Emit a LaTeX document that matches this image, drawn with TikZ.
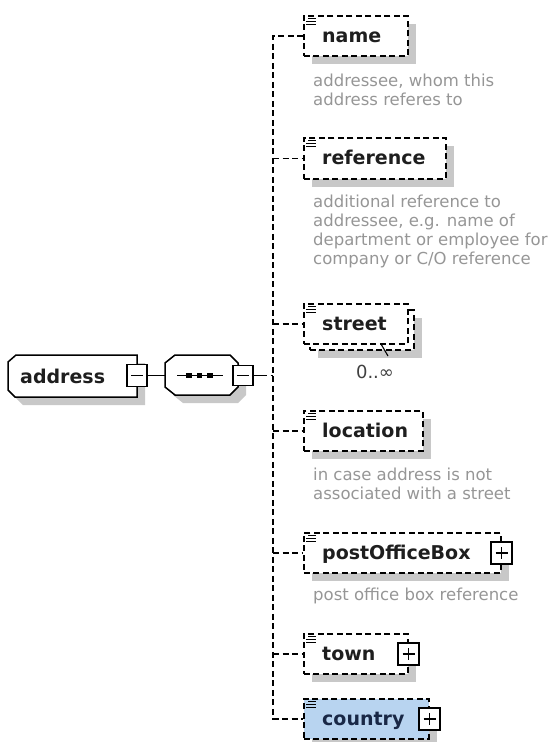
\documentclass[tikz,border=0pt]{standalone}
\usepackage{fontspec}
\setmainfont{DejaVu Sans}
\usetikzlibrary{shadows}
\definecolor{shadowgray}{RGB}{200,200,200}
\definecolor{txtdark}{RGB}{30,30,30}
\definecolor{descgray}{RGB}{150,150,150}
\definecolor{selblue}{RGB}{184,212,240}
\definecolor{seltext}{RGB}{25,40,70}
\newcommand\elicon[1]{%
  \draw[icon] ([xshift=5pt,yshift=-3.5pt]#1.north west) -- ++(8pt,0pt);
  \draw[icon] ([xshift=3pt,yshift=-6.5pt]#1.north west) -- ++(10pt,0pt);
  \draw[icon] ([xshift=3pt,yshift=-9.5pt]#1.north west) -- ++(10pt,0pt);}
\newcommand\plusmark[1]{%
  \draw[boxline] ([xshift=-6pt]#1.center) -- ([xshift=6pt]#1.center);
  \draw[boxline] ([yshift=-6pt]#1.center) -- ([yshift=6pt]#1.center);}
\newcommand\minusmark[1]{%
  \draw[boxline] ([xshift=-6pt]#1.center) -- ([xshift=6pt]#1.center);}
\begin{document}
\begin{tikzpicture}[x=1pt,y=-1pt,
  boxline/.style={line width=1.5pt},
  elbox/.style={draw=black, line width=1.5pt, dash pattern=on 6pt off 3.5pt, fill=white, rectangle, inner sep=0pt, anchor=north west},
  shadowed/.style={drop shadow={shadow xshift=8pt, shadow yshift=-8pt, fill=shadowgray, opacity=1}},
  conn/.style={line width=1.5pt, dash pattern=on 6pt off 3.5pt},
  solidconn/.style={line width=1.5pt},
  lbl/.style={anchor=base west, inner sep=0pt, font=\fontsize{19}{22}\selectfont\bfseries, text=txtdark},
  desc/.style={anchor=base west, inner sep=0pt, align=left, font=\fontsize{16.5}{19}\selectfont, text=descgray},
  togglebox/.style={draw=black, line width=1.5pt, fill=white, rectangle, inner sep=0pt, minimum width=21pt, minimum height=22pt},
  icon/.style={line width=1.1pt},
]
\useasboundingbox (0,0) rectangle (547,742);

% ---------- address ----------
\begin{scope}[shift={(8,8)}]
  \fill[shadowgray] (16,355) -- (137,355) -- (137,397) -- (15,397) -- (8,390) -- (8,362) -- cycle;
\end{scope}
\draw[boxline, fill=white] (16,355) -- (137,355) -- (137,397) -- (15,397) -- (8,390) -- (8,362) -- cycle;
\node[inner sep=0pt, minimum width=129pt, minimum height=42pt, anchor=north west] (address) at (8,355) {};
\node[lbl] (addrlbl) at (20,383) {address};
\node[togglebox, minimum width=20pt] (addrtog) at (137,375.5) {};
\minusmark{addrtog}

% ---------- sequence ----------
\begin{scope}[shift={(8,8)}]
  \fill[shadowgray] (175,355) -- (230,355) -- (238,363) -- (238,387) -- (230,395) -- (175,395) -- (165,387) -- (165,363) -- cycle;
\end{scope}
\draw[boxline, fill=white] (175,355) -- (230,355) -- (238,363) -- (238,387) -- (230,395) -- (175,395) -- (165,387) -- (165,363) -- cycle;
\node[inner sep=0pt, minimum width=73pt, minimum height=40pt] (seq) at (201.5,375.5) {};
\draw[boxline] (177,375.5) -- (223,375.5);
\foreach \sx in {189,199.5,210}
  \fill[black] (\sx-2.8,372.7) rectangle (\sx+2.8,378.3);
\node[togglebox, minimum width=20pt, minimum height=20pt] (seqtog) at (243,375.5) {};
\minusmark{seqtog}

\draw[solidconn] (addrtog.east) -- (seq.west);
\coordinate (trunk) at (273,375.5);
\coordinate (stub) at (261,375.5);
\draw[solidconn] (seqtog.east) -- (stub);
\draw[conn] (stub) -- (trunk);

% ---------- child elements ----------
\node[elbox, shadowed, minimum width=104pt, minimum height=40pt] (name) at (303,15) {};
\node[elbox, shadowed, minimum width=142pt, minimum height=41pt] (reference) at (303,137) {};
\node[elbox, shadowed, minimum width=104pt, minimum height=40pt] (streetback) at (309,309) {};
\node[elbox, minimum width=104pt, minimum height=40pt] (street) at (303,303) {};
\node[elbox, shadowed, minimum width=119pt, minimum height=40pt] (location) at (303,410) {};
\node[elbox, shadowed, minimum width=197pt, minimum height=40pt] (pob) at (303,532) {};
\node[elbox, shadowed, minimum width=104pt, minimum height=40pt] (town) at (303,633) {};
\node[elbox, shadowed, fill=selblue, minimum width=125pt, minimum height=40pt] (country) at (303,698) {};

% connectors
\draw[conn] (name.west) -- (name.west -| trunk) -- (country.west -| trunk) -- (country.west);
\foreach \n in {reference,street,location,pob,town}
  \draw[conn] (\n.west -| trunk) -- (\n.west);

% icons
\foreach \n in {name,reference,street,location,pob,town,country}
  {\elicon{\n}}

% labels
\node[lbl] (namelbl) at (322,42) {name};
\node[lbl] (reflbl) at (322,164) {reference};
\node[lbl] (streetlbl) at (322,330) {street};
\node[lbl] (loclbl) at (322,437) {location};
\node[lbl] (poblbl) at (322,559) {postOfficeBox};
\node[lbl] (townlbl) at (322,660) {town};
\node[lbl, text=seltext] (countrylbl) at (322,725) {country};

% toggles
\node[togglebox] (pobtog) at (pob.east) {};
\plusmark{pobtog}
\node[togglebox] (towntog) at (town.east) {};
\plusmark{towntog}
\node[togglebox] (countrytog) at (country.east) {};
\plusmark{countrytog}

% cardinality
\draw[line width=1.1pt] (381,344) -- (388,356);
\node[anchor=base, inner sep=0pt, font=\fontsize{18}{20}\selectfont, text=txtdark!85] (streetcard) at (375,378) {0..∞};

% descriptions (anchor = baseline of last line)
\node[desc] (namedesc) at (313,105) {addressee, whom this\\address referes to};
\node[desc] (refdesc) at (313,264) {additional reference to\\addressee, e.g. name of\\department or employee for\\company or C/O reference};
\node[desc] (locdesc) at (313,499) {in case address is not\\associated with a street};
\node[desc] (pobdesc) at (313,600) {post office box reference};
\end{tikzpicture}
\end{document}
